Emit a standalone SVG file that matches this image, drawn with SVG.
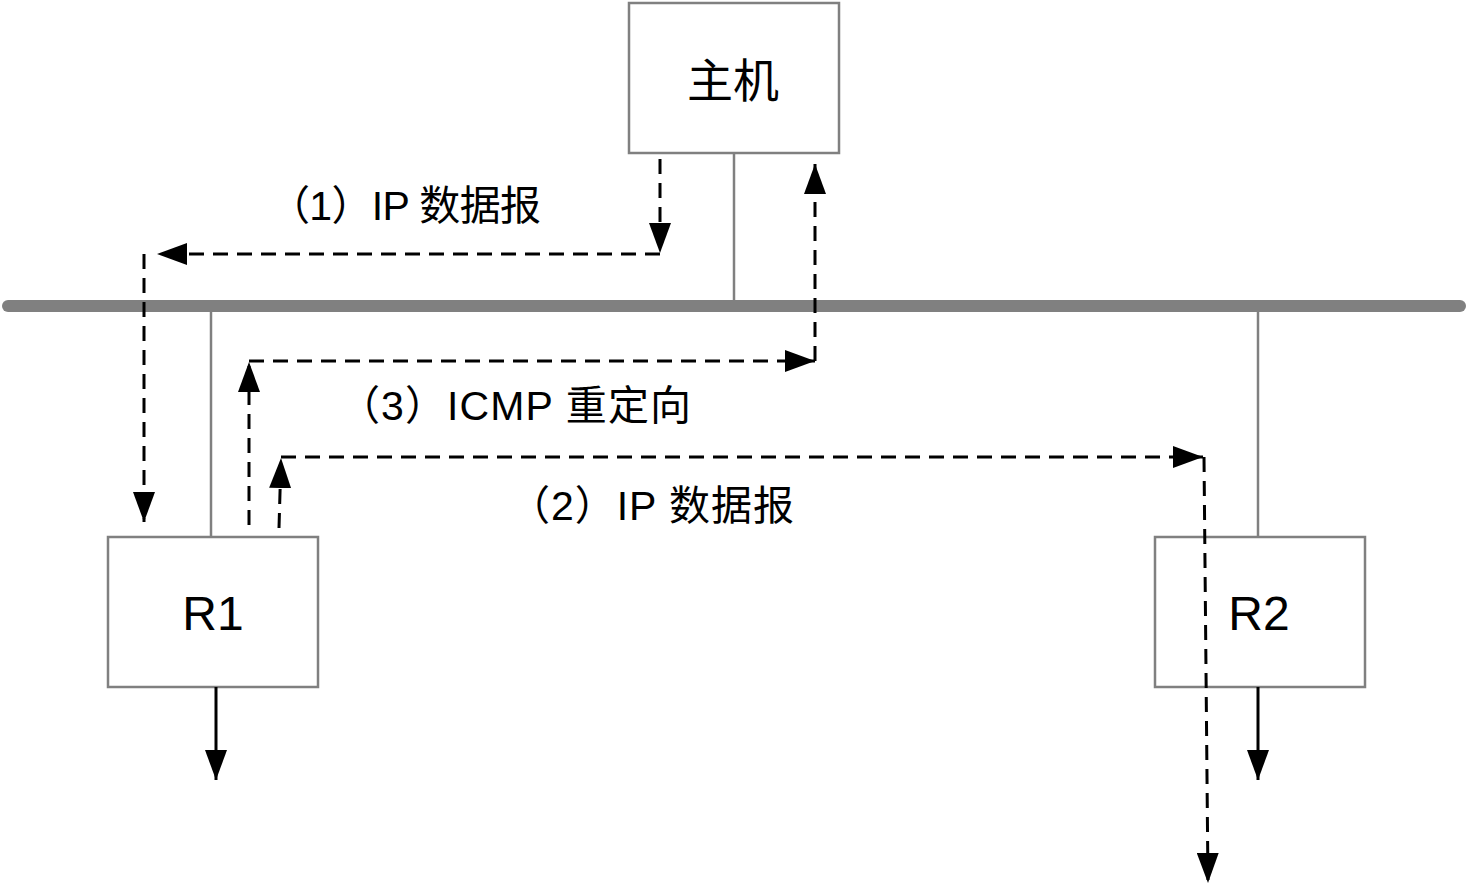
<svg xmlns="http://www.w3.org/2000/svg" width="1467" height="888" viewBox="0 0 1467 888">
<style>
.box{fill:#fff;stroke:#808080;stroke-width:2.5}
.wire{stroke:#808080;stroke-width:2.5;fill:none}
.dash{stroke:#000;stroke-width:3;fill:none;stroke-dasharray:15 9}
.solid{stroke:#000;stroke-width:3;fill:none}
.lbl{font-family:"Liberation Sans","Noto Sans CJK SC",sans-serif;font-size:41px;fill:#000}
.node{font-family:"Liberation Sans","Noto Sans CJK SC",sans-serif;fill:#000;text-anchor:middle}
</style>
<defs>
<marker id="ah" markerUnits="userSpaceOnUse" markerWidth="30" markerHeight="22" refX="30" refY="11" orient="auto" viewBox="0 0 30 22">
<path d="M0,0 L30,11 L0,22 z" fill="#000"/>
</marker>
</defs>
<rect width="1467" height="888" fill="#fff"/>
<g id="bus">
<line x1="8" y1="306" x2="1460" y2="306" stroke="#808080" stroke-width="12" stroke-linecap="round"/>
</g>
<g id="wires">
<line class="wire" x1="734" y1="153" x2="734" y2="300"/>
<line class="wire" x1="211" y1="310" x2="211" y2="537"/>
<line class="wire" x1="1258" y1="310" x2="1258" y2="537"/>
</g>
<g id="host">
<rect class="box" x="629" y="3" width="210" height="150"/>
<text class="node" x="733" y="97" font-size="46">主机</text>
</g>
<g id="r1">
<rect class="box" x="108" y="537" width="210" height="150"/>
<text class="node" x="213" y="630" font-size="48">R1</text>
</g>
<g id="r2">
<rect class="box" x="1155" y="537" width="210" height="150"/>
<text class="node" x="1259" y="630" font-size="48">R2</text>
</g>
<g id="connectors">
<line class="solid" x1="216" y1="687" x2="216" y2="780" marker-end="url(#ah)"/>
<line class="solid" x1="1258" y1="687" x2="1258" y2="780" marker-end="url(#ah)"/>
<line class="dash" x1="660" y1="159" x2="660" y2="253" marker-end="url(#ah)"/>
<line class="dash" x1="660" y1="254" x2="157" y2="254" marker-end="url(#ah)"/>
<line class="dash" x1="144" y1="254" x2="144" y2="522" marker-end="url(#ah)"/>
<line class="dash" x1="249" y1="525" x2="249" y2="362" marker-end="url(#ah)"/>
<line class="dash" x1="249" y1="361" x2="815" y2="361" marker-end="url(#ah)"/>
<line class="dash" x1="815" y1="361" x2="815" y2="164" marker-end="url(#ah)"/>
<line class="dash" x1="279" y1="528" x2="281" y2="458" marker-end="url(#ah)"/>
<line class="dash" x1="281" y1="457" x2="1203" y2="457" marker-end="url(#ah)"/>
<line class="dash" x1="1204" y1="457" x2="1208" y2="883" marker-end="url(#ah)"/>
</g>
<g id="labels">
<text class="lbl" x="269" y="220" textLength="272" lengthAdjust="spacing">（1）IP 数据报</text>
<text class="lbl" x="339" y="420" textLength="352" lengthAdjust="spacing">（3）ICMP 重定向</text>
<text class="lbl" x="509" y="520" textLength="285" lengthAdjust="spacing">（2）IP 数据报</text>
</g>
</svg>
